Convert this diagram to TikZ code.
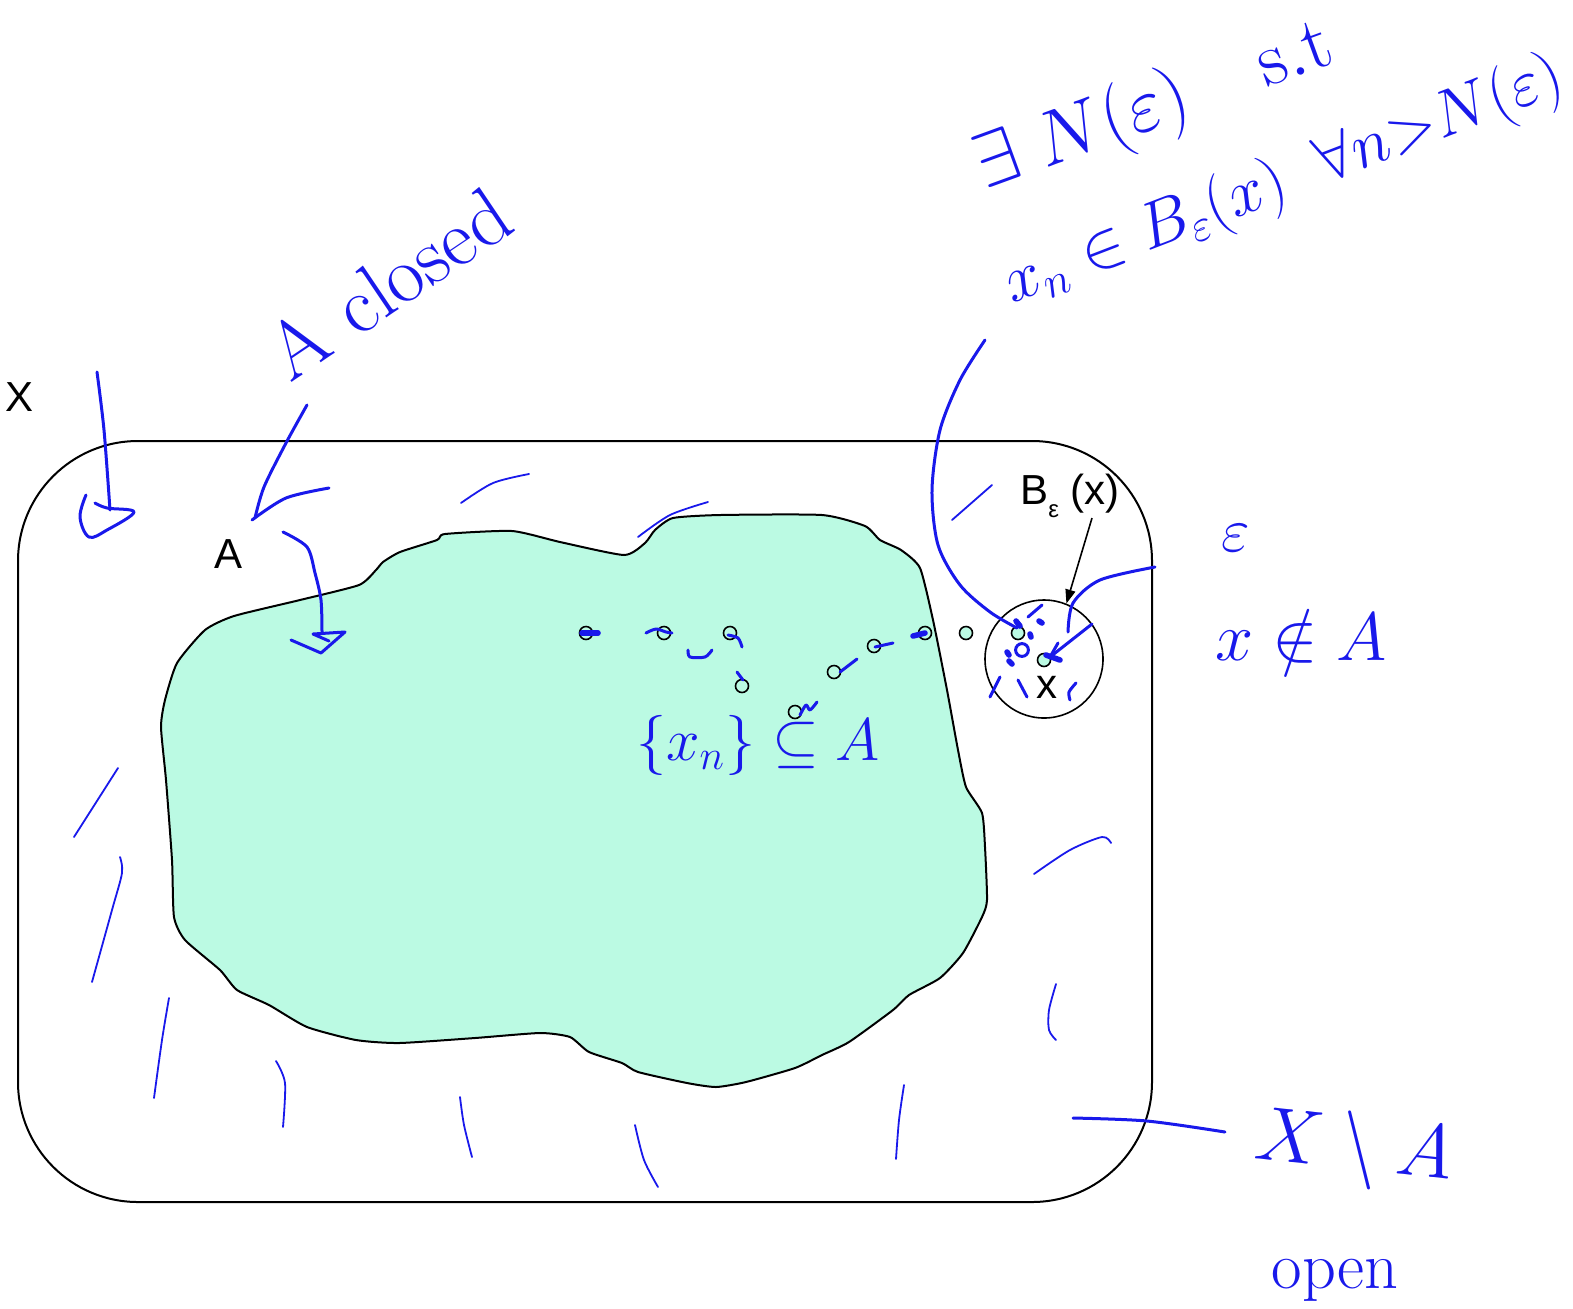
\documentclass[tikz,border=0pt]{standalone}
\usepackage{fontspec}
\newfontfamily\arialf{Liberation Sans}
\usetikzlibrary{arrows.meta}
\definecolor{ink}{RGB}{25,25,235}
\definecolor{mint}{RGB}{187,250,227}
\tikzset{
  outline/.style={draw=black, line width=1pt},
  tag/.style={font=\arialf\fontsize{21}{24}\selectfont, inner sep=0pt},
  pen/.style={draw=ink, line width=1.5pt, line cap=round, line join=round},
  hatch/.style={draw=ink, line width=0.9pt, line cap=round},
  blot/.style={draw=ink, line width=2.8pt, line cap=round, line join=round},
  hand/.style={text=ink, font=\huge, inner sep=0pt},
  seqpt/.style={circle, draw=black, line width=0.8pt, minimum size=6.5pt, inner sep=0pt},
  mintpt/.style={seqpt, fill=mint},
}
\begin{document}
\begin{tikzpicture}[x=0.5pt,y=-0.5pt]
\useasboundingbox (0,0) rectangle (1573,1308);

% the space X
\draw[outline, rounded corners=60pt] (18,441) rectangle (1152,1202);

% the closed set A
\draw[outline, fill=mint] plot[smooth cycle, tension=0.35] coordinates {
  (177,663) (205,630) (234,616) (300,600) (359,585) (376,570) (383,562)
  (400,552) (437,540) (445,534) (512,531) (560,542) (624,555) (645,543)
  (655,530) (673,518) (720,515) (822,515) (865,526) (880,540) (901,550)
  (920,568) (933,620) (947,690) (958,750) (966,787) (982,813) (985,847)
  (987,900) (982,917) (963,953) (940,978) (909,995) (893,1010) (849,1042)
  (822,1055) (795,1068) (746,1082) (716,1087) (687,1083) (638,1072)
  (622,1063) (589,1052) (570,1037) (540,1033) (475,1038) (399,1043)
  (356,1040) (307,1027) (269,1005) (237,990) (220,970) (185,940)
  (174,917) (172,860) (166,780) (161,727) (165,700)};

% the sequence x_n
\node[seqpt] (p1) at (586,633) {};
\node[seqpt] (p2) at (664,633) {};
\node[seqpt] (p3) at (730,633) {};
\node[seqpt] (p4) at (742,686) {};
\node[seqpt] (p5) at (795,712) {};
\node[seqpt] (p6) at (834,672) {};
\node[seqpt] (p7) at (874,646) {};
\node[seqpt] (p8) at (925,633) {};
\node[mintpt] (p9) at (966,633) {};
\node[mintpt] (p10) at (1018,633) {};

% the ball around x
\node[circle, draw=black, line width=0.8pt, minimum size=59pt, inner sep=0pt] (ball) at (1044,659) {};
\node[mintpt] (xpt) at (1044,660) {};

% printed labels
\node[tag] (lX) at (20,397) {X};
\node[tag] (lA) at (229,554) {A};
\node[tag] (lB) at (1070,496) {B\raisebox{-0.3em}{\fontsize{12}{12}\selectfont ε}\;(x)};
\node[tag] (lx) at (1047,687) {x};
\draw[line width=0.8pt, -{Triangle[length=7pt,width=5pt]}]
  ([xshift=11pt]lB.south) -- (ball.68);

% handwritten notes
\node[hand, scale=1.85, rotate=20] (nexists) at (1155,108) {$\exists\;N(\varepsilon)\quad\mathrm{s.t}$};
\node[hand, scale=1.58, rotate=21] (ninball) at (1284,182) {$x_n\in B_\varepsilon(x)\;\;\forall n{>}N(\varepsilon)$};
\node[hand, scale=1.95, rotate=34] (nclosed) at (388,283) {A closed};
\node[hand, scale=1.5] (neps) at (1236,538) {$\varepsilon$};
\node[hand, scale=1.65] (nnotin) at (1301,636) {$x\notin A$};
\node[hand, scale=1.45] (nseq) at (758,745) {$\{x_n\}\subseteq A$};
\node[hand, scale=1.85, rotate=-6] (ncompl) at (1354,1150) {$X\setminus A$};
\node[hand, scale=1.6] (nopen) at (1335,1280) {open};

% arrow from X down into the space
\draw[pen] plot[smooth] coordinates {(97,372) (104,430) (110,510)};
\draw[pen] plot[smooth, tension=0.6] coordinates {(86,495) (80,517) (89,537) (107,530) (134,512) (107,508) (95,503)};

% arrow towards the label A
\draw[pen] plot[smooth] coordinates {(307,405) (286,443) (264,487) (255,518)};
\draw[pen] plot[smooth] coordinates {(252,520) (286,498) (329,488)};

% arrow from A into the set
\draw[pen] plot[smooth] coordinates {(283,532) (307,547) (315,573) (321,600) (322,632)};
\draw[pen] (291,640) -- (321,653) -- (345,632) -- (313,634) -- (329,641);

% curve from the note down to the ball
\draw[pen] plot[smooth] coordinates {(985,340) (960,380) (940,430) (932,490) (938,545) (960,585) (990,612) (1017,628)};

% radius and epsilon stroke
\draw[pen] plot[smooth] coordinates {(1155,567) (1100,580) (1073,603) (1068,632)};
\draw[pen] (1092,624) -- (1050,657);
\draw[blot] (1046,655) -- (1060,660);
\draw[pen] (1058,643) -- (1050,657);

% marks inside the ball
\draw[pen] (1042,605) -- (1028,617);
\draw[blot] (1016,621) -- (1020,626);
\draw[blot] (1039,621) -- (1042,623);
\draw[blot] (1030,634) -- (1031,637);
\draw[pen] (1022,650) circle (3.2pt);
\draw[blot] (1007,652) -- (1009,655);
\draw[blot] (1009,661) -- (1012,664);
\draw[pen] (1000,677) -- (990,697);
\draw[pen] (1018,680) -- (1027,697);
\draw[pen] plot[smooth] coordinates {(1076,683) (1069,692) (1070,700)};

% touches at the sequence points
\draw[blot] (582,633) -- (598,633);
\draw[pen] plot[smooth] coordinates {(646,633) (656,629) (666,632) (672,633)};
\draw[pen] plot[smooth] coordinates {(728,635) (738,638) (742,647)};
\draw[pen] plot[smooth] coordinates {(688,650) (690,657) (705,657) (712,650)};
\draw[pen] (737,672) -- (743,680);
\draw[pen] plot[smooth] coordinates {(800,715) (806,705) (810,710) (817,702)};
\draw[pen] (840,672) -- (857,659);
\draw[pen] (875,647) -- (893,643);
\draw[blot] (913,636) -- (925,633);

% hatching of the complement
\draw[hatch] plot[smooth] coordinates {(461,503) (493,483) (529,474)};
\draw[hatch] plot[smooth] coordinates {(638,537) (670,515) (708,502)};
\draw[hatch] (952,520) -- (992,485);
\draw[hatch] (74,837) -- (118,768);
\draw[hatch] plot[smooth] coordinates {(92,982) (112,910) (122,873) (120,857)};
\draw[hatch] plot[smooth] coordinates {(154,1098) (162,1040) (169,998)};
\draw[hatch] plot[smooth] coordinates {(283,1127) (285,1083) (276,1061)};
\draw[hatch] plot[smooth] coordinates {(472,1157) (464,1125) (460,1097)};
\draw[hatch] plot[smooth] coordinates {(658,1187) (644,1160) (635,1125)};
\draw[hatch] plot[smooth] coordinates {(896,1159) (899,1120) (904,1085)};
\draw[hatch] plot[smooth] coordinates {(1056,1040) (1049,1030) (1049,1010) (1056,984)};
\draw[hatch] plot[smooth] coordinates {(1034,874) (1070,850) (1102,837) (1111,843)};
\draw[pen] plot[smooth] coordinates {(1073,1118) (1147,1121) (1225,1132)};
\end{tikzpicture}
\end{document}
